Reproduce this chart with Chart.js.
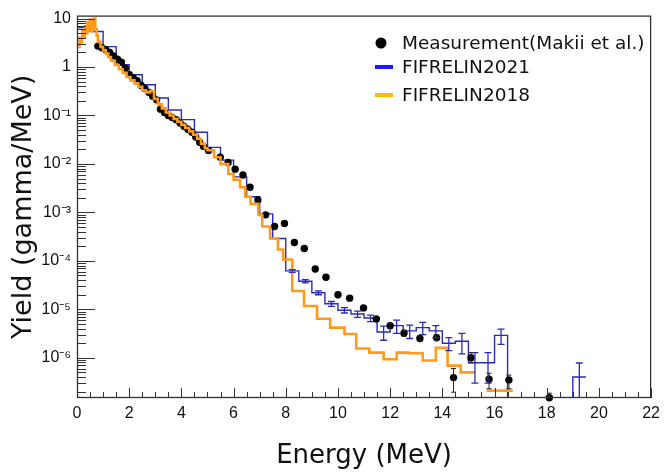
<!DOCTYPE html>
<html>
<head>
<meta charset="utf-8">
<script src="https://cdn.jsdelivr.net/npm/chart.js@4.4.0/dist/chart.umd.min.js"></script>
<style>
  html, body { margin: 0; padding: 0; background: #fff; }
  #wrap { width: 666px; height: 474px; }
</style>
</head>
<body>
<div id="wrap"><canvas id="chart" width="666" height="474"></canvas></div>
<script>
// Measurement (Makii et al.)
const measEnergy = [0.80, 0.95, 1.10, 1.25, 1.40, 1.55, 1.70, 1.85, 2.00, 2.15, 2.30, 2.45, 2.60, 2.75, 2.90,
  3.05, 3.20, 3.35, 3.50, 3.65, 3.80, 3.95, 4.10, 4.25, 4.40, 4.55, 4.70, 4.85, 5.04, 5.49, 5.79, 6.06, 6.36,
  6.63, 6.93, 7.23, 7.57, 7.95, 8.33, 8.71, 9.13, 9.54, 10.00, 10.45, 10.98, 11.47, 12.00, 12.53, 13.14, 13.78,
  14.43, 15.10, 15.79, 16.55, 18.10];
const measYield = [2.7, 2.5, 2.3, 2.0, 1.7, 1.45, 1.25, 0.95, 0.70, 0.60, 0.52, 0.42, 0.36, 0.30, 0.25,
  0.21, 0.135, 0.115, 0.10, 0.091, 0.082, 0.070, 0.060, 0.052, 0.045, 0.036, 0.028, 0.023, 0.019, 0.0138, 0.0107, 0.0078, 0.0059,
  0.0033, 0.0018, 8.9e-4, 5.1e-4, 5.9e-4, 2.4e-4, 1.8e-4, 6.8e-5, 4.6e-5, 2.0e-5, 1.7e-5, 1.07e-5, 6.3e-6, 4.6e-6, 3.2e-6, 2.5e-6, 2.6e-6,
  3.9e-7, 1.0e-6, 3.6e-7, 3.5e-7, 1.5e-7];
// error bar bounds, null where the bar hides under the marker
const measErrLow = [null, null, null, null, null, null, null, null, null, null, null, null, null, null, null,
  null, null, null, null, null, null, null, null, null, null, null, null, null, null, null, null, null, null,
  null, null, null, null, null, null, null, null, null, null, null, null, null, 4.1e-6, 2.8e-6, 2.2e-6, 2.3e-6,
  1.95e-7, 7.9e-7, 2.3e-7, 2.3e-7, 1.0e-7];
const measErrHigh = [null, null, null, null, null, null, null, null, null, null, null, null, null, null, null,
  null, null, null, null, null, null, null, null, null, null, null, null, null, null, null, null, null, null,
  null, null, null, null, null, null, null, null, null, null, null, null, null, 5.1e-6, 3.7e-6, 2.9e-6, 3.0e-6,
  6.0e-7, 1.28e-6, 4.8e-7, 4.4e-7, 1.86e-7];

// FIFRELIN2021 histogram, bin low edges (MeV)
const fif21Low = [0, 0.5, 1, 1.5, 2, 2.5, 3, 3.5, 4, 4.5, 5, 5.5, 6, 6.5, 7, 7.5, 8, 8.5, 9, 9.5,
  10, 10.5, 11, 11.5, 12, 12.5, 13, 13.5, 14, 14.5, 15, 15.5, 16, 16.5, 17, 17.5, 18, 18.5, 19];
const fif21End = 19.5;
const fif21Yield = [6.5, 5.4, 2.63, 1.11, 0.69, 0.43, 0.23, 0.13, 0.082, 0.045, 0.022, 0.012, 0.0054, 0.0021, 9.3e-4, 2.9e-4, 6.2e-5, 3.8e-5, 2.2e-5, 1.3e-5,
  9.6e-6, 8.0e-6, 6.6e-6, 3.4e-6, 4.6e-6, 3.6e-6, 4.2e-6, 3.6e-6, 2.0e-6, 2.2e-6, 7.9e-7, 7.9e-7, 2.9e-6, 0, 0, 0, 0, 0, 4.0e-7];
const fif21Err = [0, 0, 0, 0, 0, 0, 0, 0, 0, 0, 0, 0, 0, 0, 0, 0, 4e-6, 3e-6, 2e-6, 1.5e-6,
  1.2e-6, 1.2e-6, 1.0e-6, 1.1e-6, 1.4e-6, 1.1e-6, 1.2e-6, 1.0e-6, 0.6e-6, 1.0e-6, 4.9e-7, 4.9e-7, 1.0e-6, 0, 0, 0, 0, 0, 3.8e-7];

// FIFRELIN2018 histogram, bin low edges (MeV)
const fif18Low = [0.05, 0.10, 0.15, 0.20, 0.25, 0.30, 0.35, 0.40, 0.45, 0.50, 0.55, 0.60, 0.65, 0.70, 0.75, 0.80,
  0.90, 1.00, 1.10, 1.20, 1.30, 1.45, 1.60, 1.75, 1.90, 2.05, 2.20, 2.35, 2.50, 2.65, 2.80, 2.95, 3.10, 3.25, 3.40,
  3.55, 3.70, 3.85, 4.00, 4.15, 4.30, 4.45, 4.60, 4.75, 4.90, 5.00, 5.25, 5.50, 5.80, 6.00, 6.25, 6.45, 6.65, 6.95,
  7.10, 7.40, 7.70, 7.90, 8.25, 8.70, 9.20, 9.70, 10.25, 10.70, 11.20, 11.75, 12.25, 12.70, 13.25, 13.75, 14.20,
  14.70, 15.25, 15.70];
const fif18End = 16.7;
const fif18Yield = [2.6, 4.0, 3.2, 5.5, 4.2, 7.0, 5.0, 8.5, 6.0, 9.5, 5.5, 7.5, 10.0, 6.0, 4.5, 3.3,
  2.6, 2.2, 1.9, 1.6, 1.35, 1.1, 0.9, 0.75, 0.62, 0.53, 0.46, 0.39, 0.33, 0.30, 0.32, 0.22, 0.17, 0.14, 0.115,
  0.10, 0.085, 0.074, 0.064, 0.055, 0.047, 0.040, 0.033, 0.026, 0.021, 0.0191, 0.0137, 0.0099, 0.0062, 0.0047, 0.0033, 0.0021, 0.0015, 8.9e-4,
  5.1e-4, 2.9e-4, 1.72e-4, 1.07e-4, 2.38e-5, 1.17e-5, 6.4e-6, 4.2e-6, 3.1e-6, 1.55e-6, 1.28e-6, 9.3e-7, 1.28e-6, 1.24e-6, 8.8e-7, 1.6e-6, 6.9e-7,
  5.0e-7, null, 2.1e-7];

const yTickValues = [1e-6, 1e-5, 1e-4, 1e-3, 1e-2, 1e-1, 1, 10];
const yTickLabels = ["10\u207B\u2076", "10\u207B\u2075", "10\u207B\u2074", "10\u207B\u00B3", "10\u207B\u00B2", "10\u207B\u00B9", "1", "10"];
const legendLabels = ["Measurement(Makii et al.)", "FIFRELIN2021", "FIFRELIN2018"];

const Y_MIN = 1.48e-7;
const Y_MAX = 11.5;
const FLOOR = 1e-9; // empty bins drop to the bottom of the frame

function histPoints(low, end, values) {
  const pts = [];
  low.forEach((x0, i) => {
    const x1 = i < low.length - 1 ? low[i + 1] : end;
    let v = values[i];
    if (v === null) { pts.push({ x: x0, y: null }); return; }
    if (v === 0) v = FLOOR;
    pts.push({ x: x0, y: v }, { x: x1, y: v });
  });
  return pts;
}

const frameTicks = {
  id: "frameTicks",
  afterDatasetsDraw(chart) {
    const { ctx, chartArea: a, scales: { x, y } } = chart;
    ctx.save();
    ctx.strokeStyle = "#333";
    ctx.lineWidth = 1;
    ctx.beginPath();
    x.ticks.forEach(t => {
      const px = Math.round(x.getPixelForValue(t.value)) + 0.5;
      const len = t.value % 2 === 0 ? 10 : 6;
      ctx.moveTo(px, a.bottom);
      ctx.lineTo(px, a.bottom - len);
    });
    for (let k = -7; k <= 1; k++) {
      for (let m = 1; m <= 9; m++) {
        const v = m * Math.pow(10, k);
        if (v < Y_MIN || v > Y_MAX) continue;
        const py = Math.round(y.getPixelForValue(v)) + 0.5;
        const len = m === 1 ? 18 : 9;
        ctx.moveTo(a.left, py);
        ctx.lineTo(a.left + len, py);
      }
    }
    ctx.stroke();
    ctx.lineWidth = 1.3;
    ctx.strokeRect(a.left + 0.5, a.top + 0.5, a.width - 1, a.height - 1);
    ctx.restore();
  }
};

const errorBars = {
  id: "errorBars",
  afterDatasetsDraw(chart) {
    const { ctx, chartArea: a, scales: { x, y } } = chart;
    ctx.save();
    ctx.beginPath();
    ctx.rect(a.left, a.top, a.width, a.height + 6);
    ctx.clip();
    function bar(px, lo, hi, cap) {
      const yLo = Math.min(y.getPixelForValue(Math.max(lo, FLOOR)), a.bottom);
      const yHi = y.getPixelForValue(hi);
      ctx.beginPath();
      ctx.moveTo(px, yLo); ctx.lineTo(px, yHi);
      ctx.moveTo(px - cap, yHi); ctx.lineTo(px + cap, yHi);
      if (yLo < a.bottom) { ctx.moveTo(px - cap, yLo); ctx.lineTo(px + cap, yLo); }
      ctx.stroke();
    }
    ctx.strokeStyle = "#2b2bb8";
    ctx.lineWidth = 1.3;
    fif21Low.forEach((x0, i) => {
      const e = fif21Err[i];
      if (!e) return;
      const x1 = i < fif21Low.length - 1 ? fif21Low[i + 1] : fif21End;
      const px = x.getPixelForValue((x0 + x1) / 2);
      bar(px, fif21Yield[i] - e, fif21Yield[i] + e, 3.5);
    });
    ctx.strokeStyle = "#222";
    ctx.lineWidth = 1;
    measEnergy.forEach((e, i) => {
      if (measErrLow[i] === null) return;
      bar(x.getPixelForValue(e), measErrLow[i], measErrHigh[i], 2.5);
    });
    ctx.restore();
  }
};

const legendBox = {
  id: "legendBox",
  afterDraw(chart) {
    const ctx = chart.ctx;
    ctx.save();
    ctx.font = '18.5px "DejaVu Sans"';
    ctx.textBaseline = "middle";
    ctx.fillStyle = "#000";
    ctx.beginPath();
    ctx.arc(381, 43, 5.5, 0, 2 * Math.PI);
    ctx.fill();
    ctx.fillStyle = "#1a1aee";
    ctx.fillRect(375, 65, 18, 4);
    ctx.fillStyle = "#ffbb00";
    ctx.fillRect(375, 93, 18, 4);
    ctx.fillStyle = "#111";
    ctx.fillText(legendLabels[0], 402, 44);
    ctx.fillText(legendLabels[1], 402, 68);
    ctx.fillText(legendLabels[2], 402, 96);
    ctx.restore();
  }
};

const ctx = document.getElementById("chart").getContext("2d");
new Chart(ctx, {
  type: "scatter",
  data: {
    datasets: [{
      label: legendLabels[2],
      data: histPoints(fif18Low, fif18End, fif18Yield),
      showLine: true,
      borderColor: "#ff9a1c",
      borderWidth: 2.6,
      pointRadius: 0,
      spanGaps: false
    }, {
      label: legendLabels[0],
      data: measEnergy.map((e, i) => ({ x: e, y: measYield[i] })),
      showLine: false,
      pointRadius: 3.7,
      pointBackgroundColor: "#000",
      pointBorderColor: "#000",
      pointBorderWidth: 0,
      clip: false
    }, {
      label: legendLabels[1],
      data: histPoints(fif21Low, fif21End, fif21Yield),
      showLine: true,
      borderColor: "#2b2bb8",
      borderWidth: 1.4,
      pointRadius: 0,
      spanGaps: false
    }]
  },
  options: {
    responsive: false,
    animation: false,
    layout: { padding: { top: 12, right: 7, left: 0, bottom: 0 } },
    plugins: { legend: { display: false }, tooltip: { enabled: false } },
    scales: {
      x: {
        type: "linear",
        min: 0,
        max: 22,
        afterFit(scale) { scale.height = 76; },
        grid: { display: false, drawTicks: false },
        border: { display: false },
        ticks: {
          stepSize: 0.5,
          autoSkip: false,
          maxRotation: 0,
          padding: 6,
          color: "#111",
          font: { family: "Liberation Sans", size: 16 },
          callback: v => (v % 2 === 0 ? String(v) : "")
        },
        title: {
          display: true,
          text: "Energy (MeV)",
          color: "#111",
          font: { family: "DejaVu Sans", size: 26 },
          padding: { top: 0, bottom: 2 }
        }
      },
      y: {
        type: "logarithmic",
        min: Y_MIN,
        max: Y_MAX,
        afterFit(scale) { scale.width = 77; },
        afterBuildTicks(scale) { scale.ticks = yTickValues.map(v => ({ value: v })); },
        grid: { display: false, drawTicks: false },
        border: { display: false },
        ticks: {
          padding: 6,
          color: "#111",
          font: { family: "Liberation Sans", size: 16 },
          callback: v => {
            const i = yTickValues.findIndex(t => Math.abs(t - v) / t < 1e-6);
            return i >= 0 ? yTickLabels[i] : "";
          }
        },
        title: {
          display: true,
          text: "Yield (gamma/MeV)",
          color: "#111",
          font: { family: "DejaVu Sans", size: 27, weight: "500" },
          padding: { top: 8, bottom: 0 }
        }
      }
    }
  },
  plugins: [errorBars, frameTicks, legendBox]
});
</script>
</body>
</html>
